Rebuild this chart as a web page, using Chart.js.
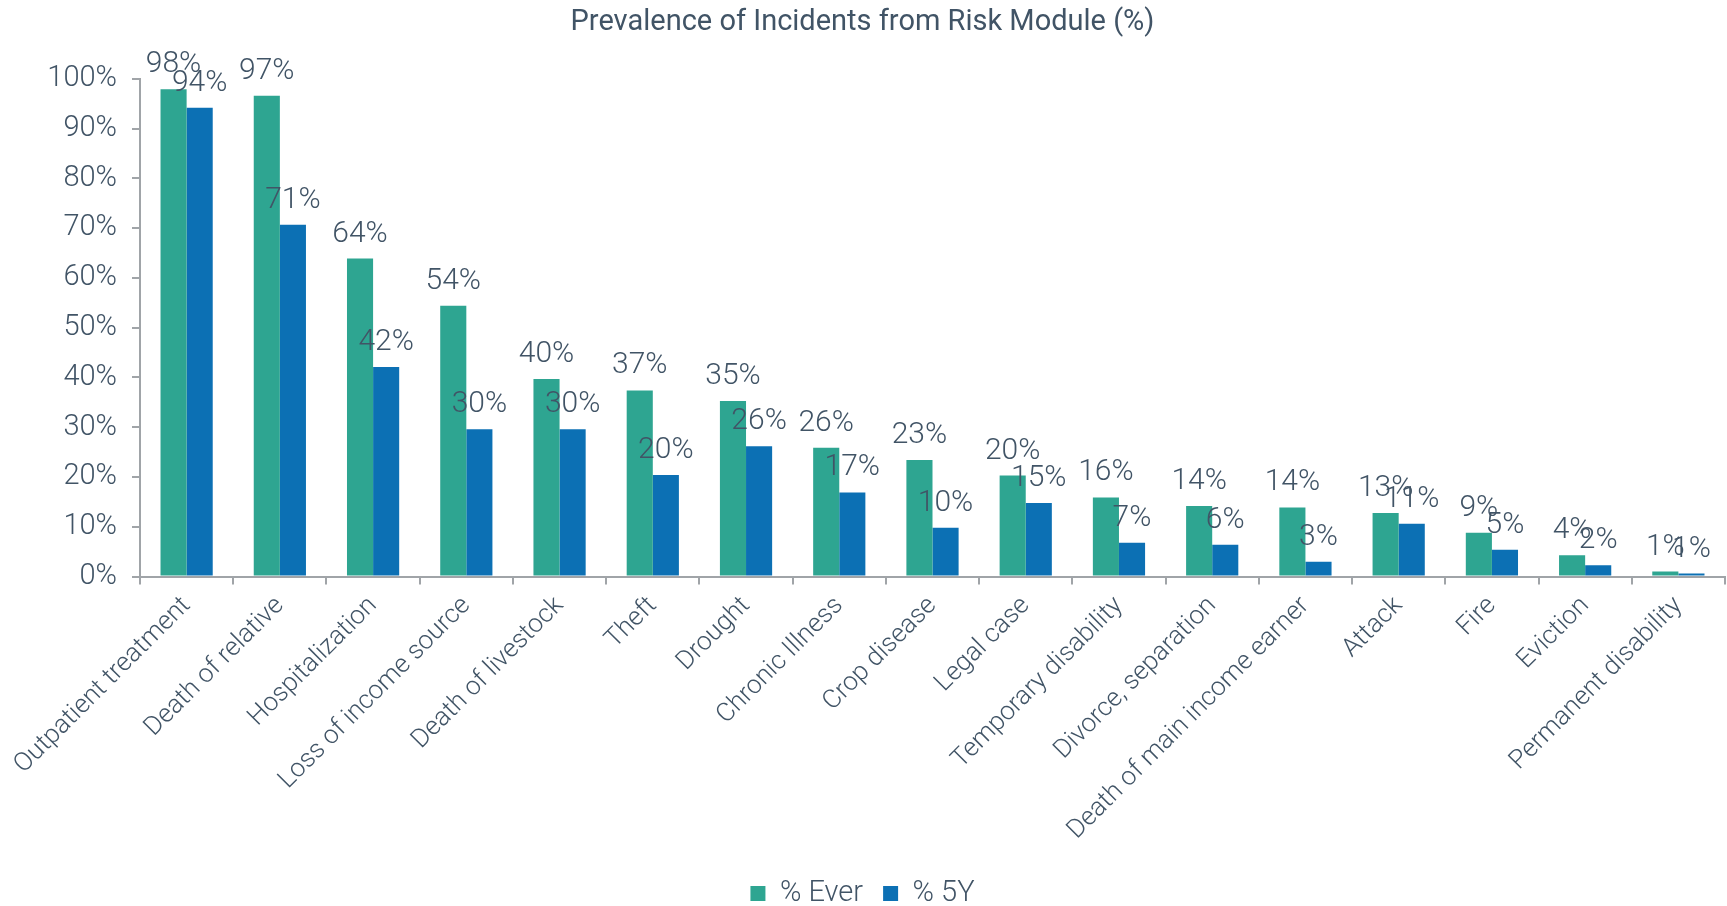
<!DOCTYPE html>
<html>
<head>
<meta charset="utf-8">
<script src="https://cdn.jsdelivr.net/npm/chart.js@4.4.1/dist/chart.umd.min.js"></script>
<style>
  html, body { margin: 0; padding: 0; background: #fff; }
  #wrap { width: 1727px; height: 906px; }
</style>
</head>
<body>
<div id="wrap"><canvas id="chart"></canvas></div>
<script>
const categories = [
  "Outpatient treatment", "Death of relative", "Hospitalization",
  "Loss of income source", "Death of livestock", "Theft", "Drought",
  "Chronic Illness", "Crop disease", "Legal case", "Temporary disability",
  "Divorce, separation", "Death of main income earner", "Attack", "Fire",
  "Eviction", "Permanent disability"
];
const everValues = [97.9, 96.6, 63.9, 54.4, 39.7, 37.4, 35.3, 25.9, 23.4, 20.3, 15.9, 14.2, 13.9, 12.8, 8.8, 4.3, 1.0];
const fiveYValues = [94.2, 70.7, 42.1, 29.6, 29.6, 20.4, 26.2, 16.9, 9.8, 14.8, 6.8, 6.4, 3.0, 10.6, 5.4, 2.3, 0.6];
const seriesNames = ["% Ever", "% 5Y"];

const textColor = "#415466";
const axisColor = "#a0a4a8";
const fontFamily = "Roboto, 'Liberation Sans', sans-serif";

// draws the value above each bar
const valueLabels = {
  id: "valueLabels",
  afterDatasetsDraw(chart) {
    const ctx = chart.ctx;
    ctx.save();
    ctx.font = "300 30px " + fontFamily;
    ctx.fillStyle = textColor;
    ctx.textAlign = "center";
    ctx.textBaseline = "alphabetic";
    chart.data.datasets.forEach((ds, i) => {
      chart.getDatasetMeta(i).data.forEach((bar, j) => {
        ctx.fillText(Math.round(ds.data[j]) + "%", bar.x, bar.y - 17);
      });
    });
    ctx.restore();
  }
};

new Chart(document.getElementById("chart"), {
  type: "bar",
  data: {
    labels: categories,
    datasets: [
      { label: seriesNames[0], data: everValues, backgroundColor: "#2ea591" },
      { label: seriesNames[1], data: fiveYValues, backgroundColor: "#0c70b4" }
    ]
  },
  options: {
    responsive: true,
    maintainAspectRatio: false,
    animation: false,
    layout: { padding: { top: 0, right: 2, left: 0, bottom: -12 } },
    datasets: { bar: { categoryPercentage: 0.56, barPercentage: 1.0 } },
    plugins: {
      title: {
        display: true,
        text: "Prevalence of Incidents from Risk Module (%)",
        color: textColor,
        font: { family: fontFamily, size: 29, weight: "400" },
        padding: { top: 5, bottom: 39 }
      },
      legend: {
        position: "bottom",
        labels: {
          color: textColor,
          font: { family: fontFamily, size: 29, weight: "300" },
          boxWidth: 15,
          boxHeight: 15,
          padding: 20
        }
      },
      tooltip: { enabled: false }
    },
    scales: {
      x: {
        grid: {
          display: true,
          drawOnChartArea: false,
          drawTicks: true,
          tickLength: 8,
          color: axisColor,
          lineWidth: 2
        },
        border: { color: axisColor, width: 2 },
        ticks: {
          color: textColor,
          font: { family: fontFamily, size: 26, weight: "300" },
          maxRotation: 45,
          minRotation: 45,
          autoSkip: false,
          padding: 6
        },
        afterFit(scale) {
          // first rotated label may overhang the y axis, like the original
          scale.paddingLeft = 0;
          scale.height += 7;
        }
      },
      y: {
        min: 0,
        max: 100,
        grid: {
          display: true,
          drawOnChartArea: false,
          drawTicks: true,
          tickLength: 8,
          color: axisColor,
          lineWidth: 2
        },
        border: { color: axisColor, width: 2 },
        ticks: {
          stepSize: 10,
          color: textColor,
          font: { family: fontFamily, size: 29, weight: "300" },
          padding: 15,
          callback: v => v + "%"
        },
        afterFit(scale) {
          scale.width = 140;
        }
      }
    }
  },
  plugins: [valueLabels]
});
</script>
</body>
</html>
